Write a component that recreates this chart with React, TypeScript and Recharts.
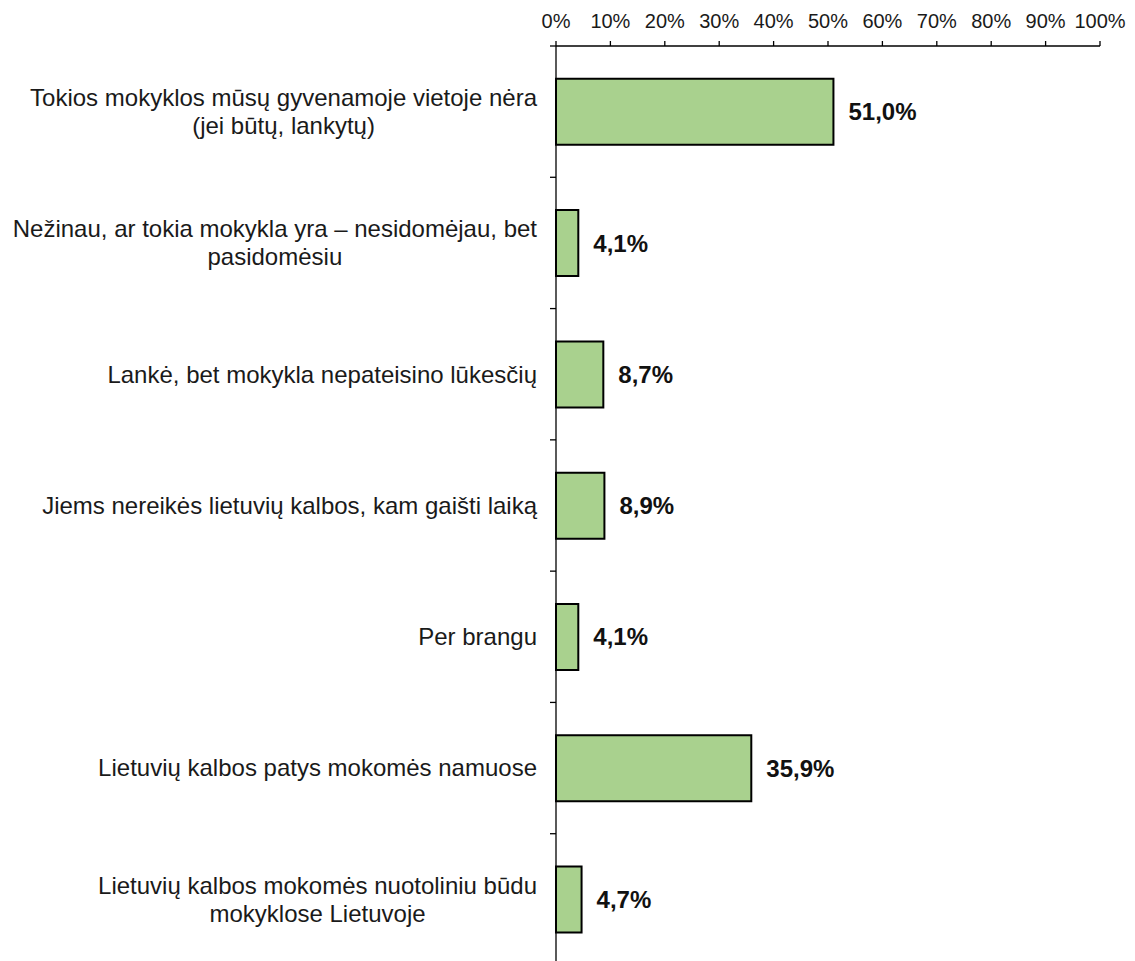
import React from 'react';
import { BarChart, Bar, XAxis, YAxis, LabelList } from 'recharts';

const categories = [
  'Tokios mokyklos mūsų gyvenamoje vietoje nėra\n(jei būtų, lankytų)',
  'Nežinau, ar tokia mokykla yra – nesidomėjau, bet\npasidomėsiu',
  'Lankė, bet mokykla nepateisino lūkesčių',
  'Jiems nereikės lietuvių kalbos, kam gaišti laiką',
  'Per brangu',
  'Lietuvių kalbos patys mokomės namuose',
  'Lietuvių kalbos mokomės nuotoliniu būdu\nmokyklose Lietuvoje',
];
const values = [51.0, 4.1, 8.7, 8.9, 4.1, 35.9, 4.7];
const xTicks = [0, 10, 20, 30, 40, 50, 60, 70, 80, 90, 100];

const data = categories.map((name, i) => ({ name, value: values[i] }));

const W = 1135;
const H = 975;
const AXIS_TOP = 46;
const Y_WIDTH = 556;
const RIGHT = 35;
const BAND = (H - AXIS_TOP - 10) / categories.length;
const FONT = '"Liberation Sans", Arial, sans-serif';
const LABEL_SIZE = 24;

let ctx: CanvasRenderingContext2D | null = null;
const measure = (s: string) => {
  if (!ctx) ctx = document.createElement('canvas').getContext('2d');
  if (!ctx) return s.length * 12;
  ctx.font = `${LABEL_SIZE}px ${FONT}`;
  return ctx.measureText(s).width;
};

// labels right-aligned as a block, lines centred inside it; small tick at each band edge
const CategoryTick = (props: any) => {
  const { y, payload } = props;
  const axisX = Y_WIDTH;
  const lines: string[] = String(payload.value).split('\n');
  const right = axisX - 19;
  const maxW = Math.max(...lines.map(measure));
  const cx = right - maxW / 2;
  const lh = 28;
  const y0 = y - ((lines.length - 1) * lh) / 2;
  return (
    <g>
      <line x1={axisX - 6} x2={axisX} y1={y - BAND / 2} y2={y - BAND / 2} stroke="#000" strokeWidth={1.3} />
      <text textAnchor="middle" fontFamily={FONT} fontSize={LABEL_SIZE} fill="#1a1a1a">
        {lines.map((l, i) => (
          <tspan key={i} x={cx} y={y0 + i * lh} dy="0.35em">
            {l}
          </tspan>
        ))}
      </text>
    </g>
  );
};

const fmt = (v: number) => `${v.toFixed(1).replace('.', ',')}%`;

export default function App() {
  return (
    <div style={{ position: 'absolute', left: 0, top: 0, background: '#fff' }}>
      <BarChart
        width={W}
        height={H}
        data={data}
        layout="vertical"
        margin={{ top: 0, right: RIGHT, bottom: 10, left: 0 }}
        barCategoryGap="25%"
      >
        <XAxis
          type="number"
          orientation="top"
          domain={[0, 100]}
          ticks={xTicks}
          tickFormatter={(v: number) => `${v}%`}
          height={AXIS_TOP}
          tickSize={5}
          tickMargin={13}
          axisLine={{ stroke: '#000', strokeWidth: 1.3 }}
          tickLine={{ stroke: '#000', strokeWidth: 1.3 }}
          tick={{ fill: '#1a1a1a', fontSize: 20, fontFamily: FONT }}
          interval={0}
        />
        <YAxis
          type="category"
          dataKey="name"
          width={Y_WIDTH}
          axisLine={{ stroke: '#000', strokeWidth: 1.3 }}
          tickLine={false}
          tick={<CategoryTick />}
          interval={0}
        />
        <Bar dataKey="value" fill="#a9d18e" stroke="#000" strokeWidth={2} isAnimationActive={false}>
          <LabelList
            dataKey="value"
            position="right"
            offset={15}
            formatter={(v: any) => fmt(Number(v))}
            style={{ fontFamily: FONT, fontSize: 24, fontWeight: 'bold', fill: '#111' }}
          />
        </Bar>
      </BarChart>
    </div>
  );
}
